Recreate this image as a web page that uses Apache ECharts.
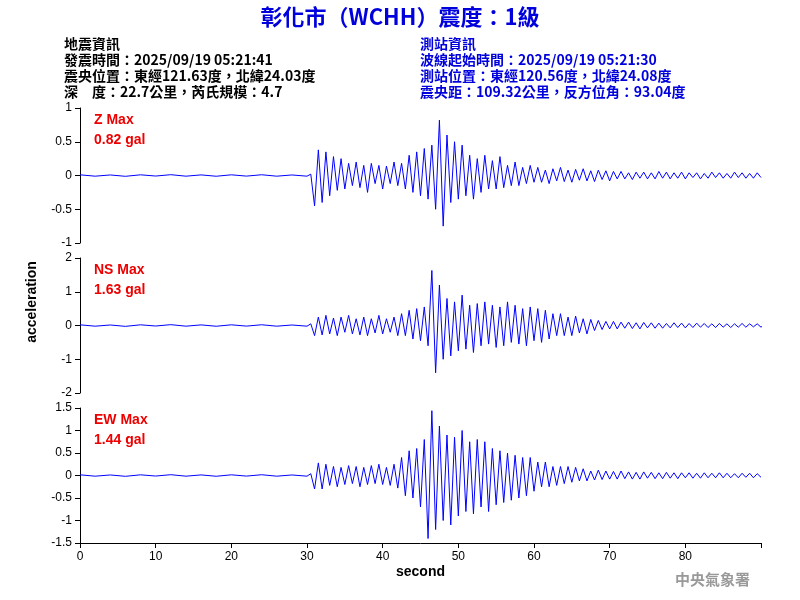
<!DOCTYPE html><html><head><meta charset="utf-8"><script src="https://cdn.jsdelivr.net/npm/echarts@6/dist/echarts.min.js"></script></head><body style="margin:0"><div id="c" style="width:800px;height:600px"></div><script>
const quietZ=[0.01,-0.01,0.008,-0.012,0.01,-0.008,0.012,-0.01,0.009,-0.011,0.01,-0.009,0.011,-0.01,0.008,-0.01];
const quietNS=[0.02,-0.02,0.015,-0.025,0.02,-0.015,0.025,-0.02,0.018,-0.022,0.02,-0.018,0.022,-0.02,0.015,-0.02];
const quietEW=[0.015,-0.015,0.012,-0.018,0.015,-0.012,0.018,-0.015,0.013,-0.017,0.015,-0.013,0.017,-0.015,0.012,-0.015];
const eventZ=[0.02,-0.45,0.38,-0.4,0.35,-0.3,0.28,-0.22,0.25,-0.2,0.18,-0.15,0.2,-0.18,0.15,-0.25,0.18,-0.12,0.15,-0.2,0.14,-0.12,0.2,-0.15,0.18,-0.2,0.3,-0.25,0.35,-0.3,0.4,-0.35,0.45,-0.5,0.82,-0.75,0.6,-0.4,0.5,-0.35,0.45,-0.3,0.3,-0.35,0.25,-0.25,0.3,-0.2,0.22,-0.2,0.28,-0.18,0.15,-0.15,0.2,-0.15,0.12,-0.12,0.15,-0.1,0.12,-0.1,0.08,-0.12,0.1,-0.08,0.12,-0.09,0.08,-0.1,0.09,-0.07,0.1,-0.08,0.07,-0.09,0.08,-0.06,0.07,-0.08,0.06,-0.05,0.06,-0.05,0.04,-0.06,0.05,-0.04,0.05,-0.05,0.04,-0.05,0.06,-0.04,0.05,-0.05,0.04,-0.04,0.05,-0.05,0.04,-0.03,0.04,-0.05,0.03,-0.04,0.05,-0.03,0.04,-0.04,0.03,-0.04,0.05,-0.03,0.04,-0.04,0.03,-0.04,0.04,-0.03];
const eventNS=[0.05,-0.3,0.25,-0.28,0.3,-0.25,0.22,-0.3,0.25,-0.2,0.3,-0.25,0.2,-0.28,0.25,-0.3,0.2,-0.22,0.3,-0.25,0.2,-0.2,0.25,-0.3,0.35,-0.3,0.45,-0.4,0.5,-0.45,0.55,-0.6,1.63,-1.4,1.2,-1.0,0.8,-0.9,0.7,-0.75,0.9,-0.7,0.6,-0.8,0.65,-0.6,0.7,-0.55,0.6,-0.65,0.55,-0.6,0.7,-0.5,0.6,-0.55,0.5,-0.6,0.55,-0.45,0.5,-0.5,0.45,-0.4,0.35,-0.3,0.35,-0.3,0.25,-0.3,0.28,-0.22,0.2,-0.25,0.18,-0.15,0.15,-0.12,0.12,-0.1,0.12,-0.1,0.1,-0.08,0.1,-0.09,0.08,-0.1,0.09,-0.07,0.08,-0.08,0.07,-0.08,0.06,-0.07,0.08,-0.06,0.07,-0.07,0.06,-0.06,0.07,-0.05,0.06,-0.06,0.05,-0.06,0.06,-0.05,0.05,-0.06,0.05,-0.05,0.06,-0.05,0.05,-0.04,0.05,-0.05,0.04];
const eventEW=[0.04,-0.3,0.28,-0.3,0.25,-0.22,0.2,-0.25,0.18,-0.2,0.22,-0.18,0.2,-0.25,0.18,-0.2,0.22,-0.18,0.25,-0.2,0.18,-0.22,0.25,-0.28,0.4,-0.45,0.55,-0.5,0.6,-0.7,0.8,-1.4,1.44,-1.2,1.1,-1.0,0.9,-1.1,0.85,-0.9,1.0,-0.8,0.75,-0.85,0.8,-0.7,0.75,-0.8,0.6,-0.65,0.55,-0.6,0.5,-0.55,0.45,-0.5,0.4,-0.45,0.4,-0.35,0.3,-0.25,0.3,-0.25,0.2,-0.22,0.2,-0.18,0.2,-0.15,0.18,-0.12,0.15,-0.12,0.1,-0.1,0.12,-0.09,0.1,-0.08,0.09,-0.08,0.1,-0.07,0.08,-0.08,0.07,-0.08,0.08,-0.06,0.07,-0.07,0.06,-0.07,0.07,-0.06,0.06,-0.07,0.06,-0.05,0.06,-0.06,0.05,-0.06,0.06,-0.05,0.05,-0.05,0.06,-0.05,0.05,-0.05,0.04,-0.05,0.05,-0.04,0.05,-0.05,0.04,-0.04];
const panelNames=['Z Max','NS Max','EW Max'];
const panelMax=['0.82 gal','1.63 gal','1.44 gal'];
const yRanges=[[-1,1,0.5],[-2,2,1],[-1.5,1.5,0.5]];
const xTicks=[0,10,20,30,40,50,60,70,80];
function build(q,e){const d=[];q.forEach((v,i)=>d.push([i*2,v]));e.forEach((v,i)=>d.push([30.5+i*0.5,v]));return d;}
const datas=[build(quietZ,eventZ),build(quietNS,eventNS),build(quietEW,eventEW)];
const tops=[108,258,408];
const font='"Noto Sans CJK TC"';
const ch=echarts.init(document.getElementById('c'));
const grids=[],xs=[],ys=[],ss=[];
for(let i=0;i<3;i++){
 grids.push({left:80,right:39,top:tops[i],height:135});
 xs.push({type:'value',gridIndex:i,min:0,max:90,interval:10,show:i==2,
  axisLine:{onZero:false,lineStyle:{color:'#000'}},axisTick:{lineStyle:{color:'#000'}},splitLine:{show:false},
  axisLabel:{color:'#000',fontSize:12,formatter:v=>xTicks.includes(v)?String(v):''},
  name:i==2?'second':'',nameLocation:'middle',nameGap:22,nameTextStyle:{fontSize:14,color:'#000',fontWeight:'bold'}});
 ys.push({type:'value',gridIndex:i,min:yRanges[i][0],max:yRanges[i][1],interval:yRanges[i][2],
  axisLine:{show:true,lineStyle:{color:'#000'}},axisTick:{show:true,lineStyle:{color:'#000'}},splitLine:{show:false},
  axisLabel:{color:'#000',fontSize:12}});
 ss.push({type:'line',xAxisIndex:i,yAxisIndex:i,data:datas[i],showSymbol:false,lineStyle:{color:'#0000ff',width:1},animation:false});
}
const gr=[
 {type:'text',left:'center',top:6,style:{text:'彰化市（WCHH）震度：1級',fill:'#0000dd',font:'bold 22px '+font}},
 {type:'text',left:64,top:36,style:{text:'地震資訊\n發震時間：2025/09/19 05:21:41\n震央位置：東經121.63度，北緯24.03度\n深　度：22.7公里，芮氏規模：4.7',fill:'#000',font:'bold 14px '+font,lineHeight:16}},
 {type:'text',left:420,top:36,style:{text:'測站資訊\n波線起始時間：2025/09/19 05:21:30\n測站位置：東經120.56度，北緯24.08度\n震央距：109.32公里，反方位角：93.04度',fill:'#0000dd',font:'bold 14px '+font,lineHeight:16}},
 {type:'text',x:32,y:302,rotation:Math.PI/2,style:{text:'acceleration',fill:'#000',font:'bold 14px sans-serif',align:'center',verticalAlign:'middle'}},
 {type:'text',right:50,top:572,style:{text:'中央氣象署',fill:'#999',font:'bold 15px '+font}}
];
for(let i=0;i<3;i++) gr.push({type:'text',left:94,top:tops[i]+2,style:{text:panelNames[i]+'\n'+panelMax[i],fill:'#ee0000',font:'bold 14px sans-serif',lineHeight:20}});
ch.setOption({animation:false,grid:grids,xAxis:xs,yAxis:ys,series:ss,graphic:gr});
</script></body></html>
